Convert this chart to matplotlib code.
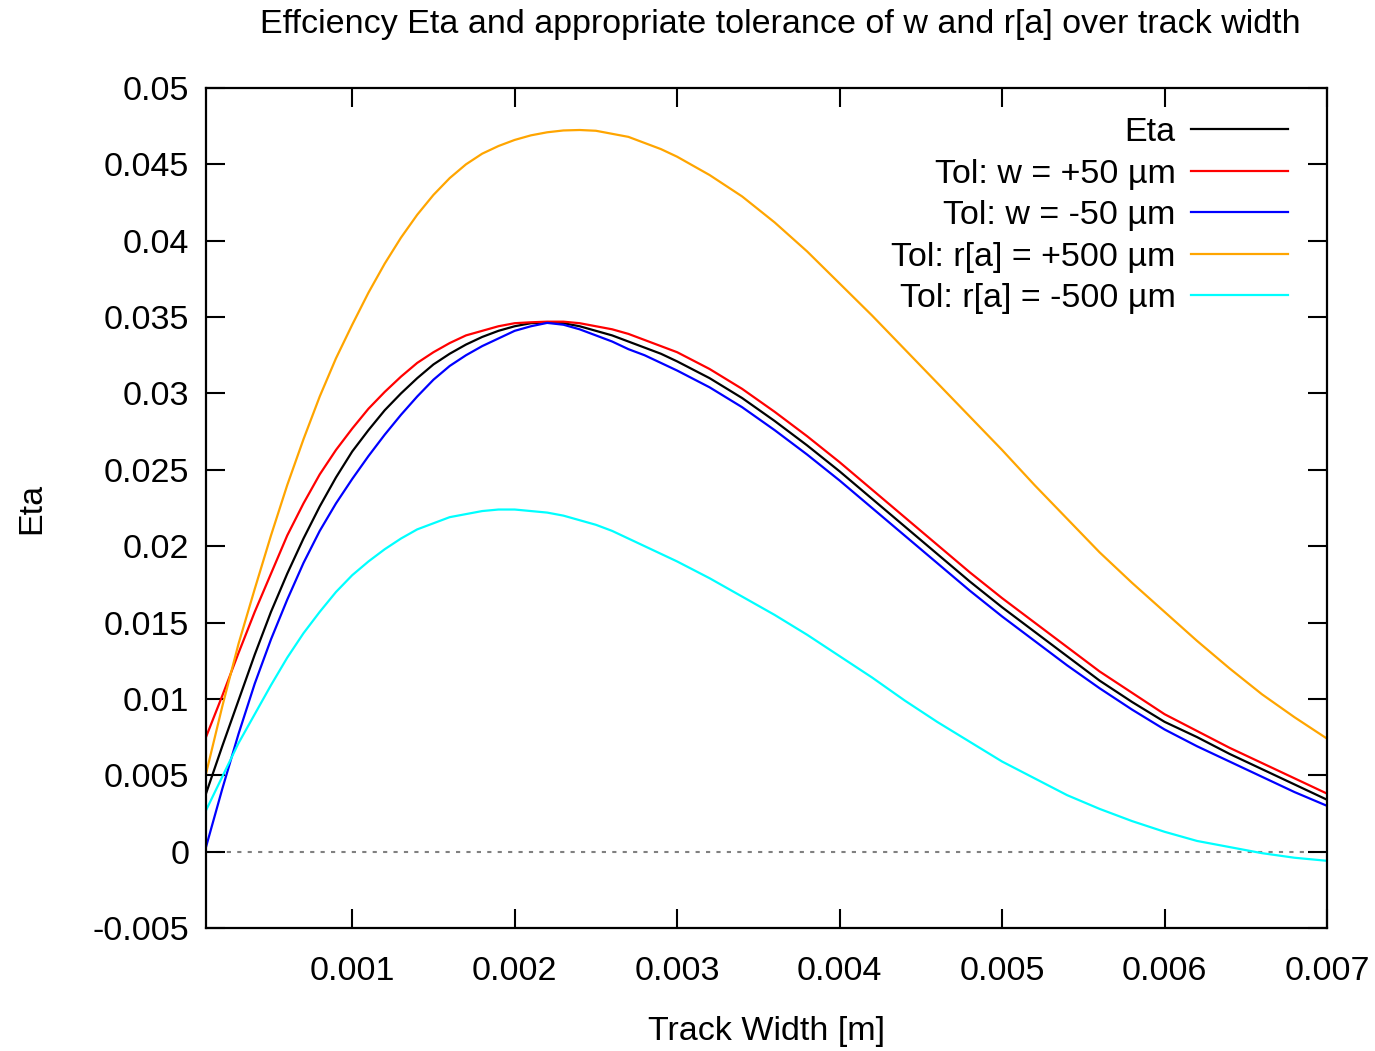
import matplotlib
matplotlib.use("Agg")
from matplotlib import pyplot as plt

plt.rcParams['font.family'] = ['Liberation Sans', 'DejaVu Sans']

# track width [m]
width = [0.0001, 0.0002, 0.0003, 0.0004, 0.0005, 0.0006, 0.0007, 0.0008, 0.0009, 0.0010,
         0.0011, 0.0012, 0.0013, 0.0014, 0.0015, 0.0016, 0.0017, 0.0018, 0.0019, 0.0020,
         0.0021, 0.0022, 0.0023, 0.0024, 0.0025, 0.0026, 0.0027, 0.0028, 0.0029, 0.0030,
         0.0032, 0.0034, 0.0036, 0.0038, 0.0040, 0.0042, 0.0044, 0.0046, 0.0048, 0.0050,
         0.0052, 0.0054, 0.0056, 0.0058, 0.0060, 0.0062, 0.0064, 0.0066, 0.0068, 0.0070]

eta = [0.0038, 0.0069, 0.0099, 0.0129, 0.0157, 0.0182, 0.0205, 0.0226, 0.0245, 0.0262,
       0.0276, 0.0289, 0.0300, 0.0310, 0.0319, 0.0326, 0.0332, 0.0337, 0.0341, 0.0344,
       0.0346, 0.03465, 0.0346, 0.0344, 0.0341, 0.0338, 0.0334, 0.0330, 0.0326, 0.0321,
       0.0310, 0.0297, 0.0282, 0.0266, 0.0249, 0.0231, 0.0213, 0.0195, 0.0177, 0.0160,
       0.0144, 0.0128, 0.0112, 0.0098, 0.0085, 0.0075, 0.0064, 0.0054, 0.0044, 0.0034]

tol_w_plus = [0.0075, 0.0102, 0.0130, 0.0157, 0.0182, 0.0207, 0.0228, 0.0247, 0.0263, 0.0277,
              0.0290, 0.0301, 0.0311, 0.0320, 0.0327, 0.0333, 0.0338, 0.0341, 0.0344, 0.0346,
              0.03466, 0.0347, 0.0347, 0.0346, 0.0344, 0.0342, 0.0339, 0.0335, 0.0331, 0.0327,
              0.0316, 0.0303, 0.0288, 0.0272, 0.0255, 0.0237, 0.0219, 0.0201, 0.0183, 0.0166,
              0.0150, 0.0134, 0.0118, 0.0104, 0.0090, 0.0079, 0.0068, 0.0058, 0.0048, 0.0038]

tol_w_minus = [0.0003, 0.0041, 0.0077, 0.0110, 0.0139, 0.0165, 0.0189, 0.0210, 0.0228, 0.0244,
               0.0259, 0.0273, 0.0286, 0.0298, 0.0309, 0.0318, 0.0325, 0.0331, 0.0336, 0.0341,
               0.0344, 0.03462, 0.0345, 0.0342, 0.0338, 0.0334, 0.0329, 0.0325, 0.0320, 0.0315,
               0.0304, 0.0291, 0.0276, 0.0260, 0.0243, 0.0225, 0.0207, 0.0189, 0.0171, 0.0154,
               0.0138, 0.0122, 0.0107, 0.0093, 0.0080, 0.0069, 0.0059, 0.0049, 0.0039, 0.0030]

tol_r_plus = [0.0051, 0.0095, 0.0136, 0.0172, 0.0207, 0.0240, 0.0270, 0.0298, 0.0323, 0.0345,
              0.0366, 0.0385, 0.0402, 0.0417, 0.0430, 0.0441, 0.0450, 0.0457, 0.0462, 0.0466,
              0.0469, 0.0471, 0.04722, 0.04725, 0.0472, 0.0470, 0.0468, 0.0464, 0.0460, 0.0455,
              0.0443, 0.0429, 0.0412, 0.0393, 0.0372, 0.0351, 0.0329, 0.0307, 0.0285, 0.0263,
              0.0240, 0.0218, 0.0196, 0.0176, 0.0157, 0.0138, 0.0120, 0.0103, 0.0088, 0.0074]

tol_r_minus = [0.0027, 0.0049, 0.0071, 0.0090, 0.0109, 0.0127, 0.0143, 0.0157, 0.0170, 0.0181,
               0.0190, 0.0198, 0.0205, 0.0211, 0.0215, 0.0219, 0.0221, 0.0223, 0.0224, 0.0224,
               0.0223, 0.0222, 0.0220, 0.0217, 0.0214, 0.0210, 0.0205, 0.0200, 0.0195, 0.0190,
               0.0179, 0.0167, 0.0155, 0.0142, 0.0128, 0.0114, 0.0099, 0.0085, 0.0072, 0.0059,
               0.0048, 0.0037, 0.0028, 0.0020, 0.0013, 0.0007, 0.0003, -0.0001, -0.0004, -0.0006]

labels = ["Eta", "Tol: w = +50 µm", "Tol: w = -50 µm",
          "Tol: r[a] = +500 µm", "Tol: r[a] = -500 µm"]
colors = ["black", "#ff0000", "#0000ff", "#ffa500", "#00ffff"]

fs = 24.5

fig = plt.figure(figsize=(13.75, 10.51), dpi=100)
ax = fig.add_axes([206/1375, 1-928/1051, 1121/1375, 840/1051])

# zero axis
ax.axhline(0, color="#808080", linestyle=(0, (2, 3)), linewidth=1.5, zorder=1)

for y, lab, c in zip([eta, tol_w_plus, tol_w_minus, tol_r_plus, tol_r_minus], labels, colors):
    ax.plot(width, y, color=c, linewidth=1.6, label=lab)

ax.set_xlim(0.0001, 0.007)
ax.set_ylim(-0.005, 0.05)
ax.set_xticks([0.001, 0.002, 0.003, 0.004, 0.005, 0.006, 0.007])
ax.set_xticklabels(["0.001", "0.002", "0.003", "0.004", "0.005", "0.006", "0.007"])
yt = [-0.005, 0, 0.005, 0.01, 0.015, 0.02, 0.025, 0.03, 0.035, 0.04, 0.045, 0.05]
ax.set_yticks(yt)
ax.set_yticklabels(["-0.005", "0", "0.005", "0.01", "0.015", "0.02", "0.025",
                    "0.03", "0.035", "0.04", "0.045", "0.05"])

ax.tick_params(direction="in", length=14, width=1.5, top=True, right=True, labelsize=fs)
ax.tick_params(axis="x", pad=20)
ax.tick_params(axis="y", pad=12)
for s in ax.spines.values():
    s.set_linewidth(1.6)

ax.set_xlabel("Track Width [m]", fontsize=fs, labelpad=21)
fig.text(32/1375, 1-508/1051, "Eta", rotation=90, fontsize=fs, ha="center", va="center")
fig.text(780/1375, 1-25/1051, "Effciency Eta and appropriate tolerance of w and r[a] over track width",
         fontsize=fs, ha="center", va="center")

ax.legend(loc="upper right", bbox_to_anchor=((1288-206)/1121, (928-117)/840),
          frameon=False, fontsize=fs, markerfirst=False, borderaxespad=0, borderpad=0,
          handlelength=2.85, handletextpad=0.45, labelspacing=0.31)

fig.savefig("out.png", dpi=100)
